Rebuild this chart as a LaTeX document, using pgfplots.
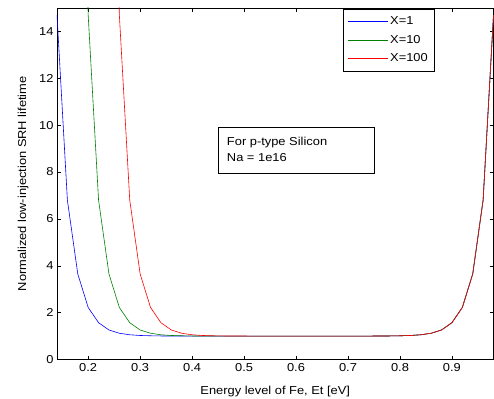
\documentclass[border=0pt]{standalone}
\usepackage{fontspec}
\setmainfont{Liberation Sans}[FakeStretch=1.12]
\usepackage{pgfplots}
\usepackage{pgfplotstable}
\pgfplotsset{compat=1.18}

\definecolor{mblue}{rgb}{0,0,1}
\definecolor{mgreen}{rgb}{0,0.5,0}
\definecolor{mred}{rgb}{1,0,0}
\newcommand{\chartfont}{\fontsize{11.5}{13}\selectfont}

\pgfplotstableread{
E tau
0.14 14.70
0.16 6.80
0.18 3.65
0.20 2.22
0.22 1.57
0.24 1.26
0.26 1.12
0.28 1.055
0.30 1.025
0.32 1.012
0.34 1.005
0.36 1.002
0.38 1.001
0.40 1.000
0.42 1.000
0.44 1.000
0.46 1.000
0.48 1.000
0.50 1.000
0.52 1.000
0.54 1.000
0.56 1.000
0.58 1.000
0.60 1.000
0.62 1.000
0.64 1.000
0.66 1.000
0.68 1.000
0.70 1.000
0.72 1.000
0.74 1.000
0.76 1.002
0.78 1.005
0.80 1.012
0.82 1.025
0.84 1.055
0.86 1.12
0.88 1.26
0.90 1.57
0.92 2.22
0.94 3.65
0.96 6.80
0.98 14.70
}\tabA

\pgfplotstableread{
E tau
0.14 147.0
0.16 67.0
0.18 31.0
0.20 14.70
0.22 6.80
0.24 3.65
0.26 2.22
0.28 1.57
0.30 1.26
0.32 1.12
0.34 1.055
0.36 1.025
0.38 1.012
0.40 1.005
0.42 1.002
0.44 1.001
0.46 1.000
0.48 1.000
0.50 1.000
0.52 1.000
0.54 1.000
0.56 1.000
0.58 1.000
0.60 1.000
0.62 1.000
0.64 1.000
0.66 1.000
0.68 1.000
0.70 1.000
0.72 1.000
0.74 1.000
0.76 1.002
0.78 1.005
0.80 1.012
0.82 1.025
0.84 1.055
0.86 1.12
0.88 1.26
0.90 1.57
0.92 2.22
0.94 3.65
0.96 6.80
0.98 14.70
}\tabB

\pgfplotstableread{
E tau
0.18 321
0.20 146
0.22 67.0
0.24 31.0
0.26 14.70
0.28 6.80
0.30 3.65
0.32 2.22
0.34 1.57
0.36 1.26
0.38 1.12
0.40 1.055
0.42 1.025
0.44 1.012
0.46 1.005
0.48 1.002
0.50 1.001
0.52 1.000
0.54 1.000
0.56 1.000
0.58 1.000
0.60 1.000
0.62 1.000
0.64 1.000
0.66 1.000
0.68 1.000
0.70 1.000
0.72 1.000
0.74 1.000
0.76 1.002
0.78 1.005
0.80 1.012
0.82 1.025
0.84 1.055
0.86 1.12
0.88 1.26
0.90 1.57
0.92 2.22
0.94 3.65
0.96 6.80
0.98 14.70
}\tabC

\begin{document}
\begin{tikzpicture}
\begin{axis}[
  name=ax,
  scale only axis,
  width=436.5pt, height=351.5pt,
  xmin=0.14, xmax=0.98, ymin=0, ymax=15,
  xtick={0.2,0.3,0.4,0.5,0.6,0.7,0.8,0.9},
  ytick={0,2,4,6,8,10,12,14},
  xticklabel style={/pgf/number format/fixed, /pgf/number format/precision=1},
  /pgf/number format/assume math mode=true,
  tick align=inside,
  major tick length=4pt,
  tick style={black, line width=0.5pt},
  axis line style={line width=0.5pt},
  every tick label/.append style={font=\chartfont},
  label style={font=\chartfont},
  xlabel={Energy level of Fe, Et [eV]},
  ylabel={Normalized low-injection SRH lifetime},
  xlabel style={at={(axis description cs:0.5,-0.099)}, anchor=base},
  ylabel style={at={(axis description cs:-0.071,0.5)}, anchor=base},
  legend style={at={(0.865,0.997)}, anchor=north east, line width=0.5pt,
    font=\chartfont, row sep=6pt, inner xsep=5pt, inner ysep=6pt,
    nodes={inner sep=1.5pt}},
  legend cell align=left,
  legend image code/.code={\draw[#1, line width=0.8pt] (0pt,0pt) -- (40pt,0pt);},
]
\addplot[color=mblue, line width=0.6pt] table[x=E, y=tau] {\tabA};
\addlegendentry{X=1}
\addplot[color=mgreen, line width=0.6pt] table[x=E, y=tau] {\tabB};
\addlegendentry{X=10}
\addplot[color=mred, line width=0.6pt] table[x=E, y=tau] {\tabC};
\addlegendentry{X=100}
\draw[black, line width=0.5pt, fill=white] (axis cs:0.4504,9.893) rectangle (axis cs:0.7513,7.96);
\node[anchor=base west, inner sep=0pt, font=\chartfont] at (axis cs:0.4667,9.125) {For p-type Silicon};
\node[anchor=base west, inner sep=0pt, font=\chartfont] at (axis cs:0.4667,8.442) {Na = 1e16};
\end{axis}
\pgfresetboundingbox
\path[use as bounding box] ([shift={(-57pt,-38.5pt)}]ax.south west) rectangle ([shift={(0.5pt,8pt)}]ax.north east);
\end{tikzpicture}
\end{document}
